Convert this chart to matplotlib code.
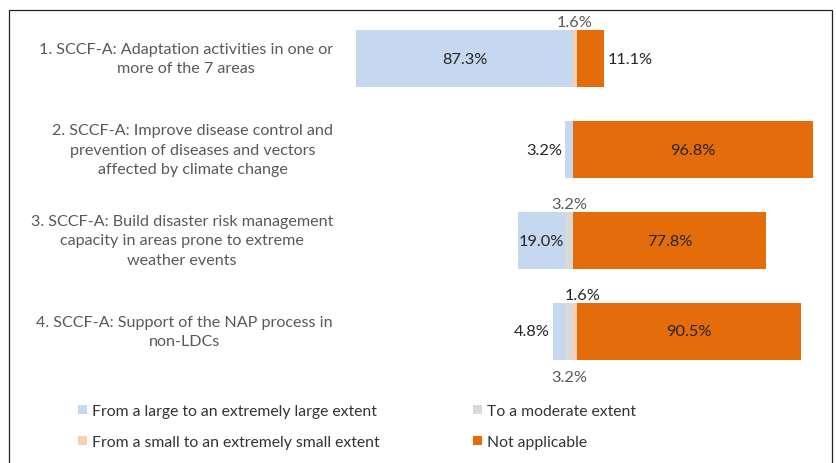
import matplotlib
matplotlib.use("Agg")
import matplotlib.pyplot as plt
import matplotlib.transforms as mtransforms
from matplotlib.patches import Rectangle, Patch

# ---- data ----
categories = [
    "1. SCCF-A: Adaptation activities in one or\nmore of the 7 areas",
    "2. SCCF-A: Improve disease control and\nprevention of diseases and vectors\naffected by climate change",
    "3. SCCF-A: Build disaster risk management\ncapacity in areas prone to extreme\nweather events",
    "4. SCCF-A: Support of the NAP process in\nnon-LDCs",
]
series_names = [
    "From a large to an extremely large extent",
    "To a moderate extent",
    "From a small to an extremely small extent",
    "Not applicable",
]
large = [87.3, 3.2, 19.0, 4.8]
moderate = [0.0, 0.0, 3.2, 3.2]
small = [1.6, 0.0, 0.0, 1.6]
not_applicable = [11.1, 96.8, 77.8, 90.5]

# ---- style ----
colors = ["#C6D8F0", "#D9D9D9", "#F9CFAE", "#E46C0A"]
font = ["Lato", "DejaVu Sans"]
plt.rcParams["font.family"] = font
dark = "#262626"
grey = "#595959"
fs = 11.6
fs_val = 11.8
fs_leg = 11.3

# label placement per bar & series: (where, colour, extra x offset px)
placement = [
    [("in", dark, 0), None, ("above", grey, 0), ("right", dark, 0)],
    [("left", dark, 0), None, None, ("in", dark, 0)],
    [("in", dark, 0), ("above", grey, 0), None, ("in", dark, 0)],
    [("left", dark, 0), ("below", grey, 0), ("above", dark, 8), ("in", dark, 0)],
]

W, H = 836, 464
fig = plt.figure(figsize=(W / 100, H / 100), dpi=100)
ax_l, ax_r, ax_t, ax_b = 340, 830, 14, 378
ax = fig.add_axes([ax_l / W, 1 - ax_b / H, (ax_r - ax_l) / W, (ax_b - ax_t) / H])
center_px, scale = 573, 2.48
ax.set_xlim((ax_l - center_px) / scale, (ax_r - center_px) / scale)
ax.set_ylim(len(categories) - 0.5, -0.5)
ax.axis("off")

series = [large, moderate, small, not_applicable]
ypos = list(range(len(categories)))
bar_h = 0.63
for i in ypos:
    left = -(large[i] + moderate[i])
    for s, vals in enumerate(series):
        v = vals[i]
        if v > 0:
            ax.barh(i, v, left=left, height=bar_h, color=colors[s], edgecolor="none")
            p = placement[i][s]
            if p is not None:
                where, col, dx = p
                txt = f"{v:.1f}%"
                mid = left + v / 2
                if where == "in":
                    ax.annotate(txt, (mid, i), ha="center", va="center", color=col, fontsize=fs_val)
                elif where == "left":
                    ax.annotate(txt, (left, i), xytext=(-2.2, 0), textcoords="offset points",
                                ha="right", va="center", color=col, fontsize=fs_val)
                elif where == "right":
                    ax.annotate(txt, (left + v, i), xytext=(2.2, 0), textcoords="offset points",
                                ha="left", va="center", color=col, fontsize=fs_val)
                elif where == "above":
                    ax.annotate(txt, (mid, i - bar_h / 2), xytext=(dx * 0.72, 5.8),
                                textcoords="offset points", ha="center", va="center",
                                color=col, fontsize=fs_val)
                elif where == "below":
                    ax.annotate(txt, (mid, i + bar_h / 2), xytext=(dx * 0.72, -12.3),
                                textcoords="offset points", ha="center", va="center",
                                color=col, fontsize=fs_val)
        left += v

# category labels
tr = mtransforms.blended_transform_factory(fig.transFigure, ax.transData)
for i, lab in enumerate(categories):
    ax.text(333 / W, i, lab, transform=tr, ha="right", va="center", multialignment="center",
            color=grey, fontsize=fs, linespacing=1.48)

# legend
handles = [Patch(facecolor=c, edgecolor="none") for c in colors]
order = [0, 2, 1, 3]
fig.legend([handles[k] for k in order], [series_names[k] for k in order], ncol=2,
           loc="upper left", bbox_to_anchor=(78 / W, 1 - 405 / H), frameon=False,
           borderpad=0, borderaxespad=0, handlelength=0.55, handleheight=0.55,
           handletextpad=0.35, columnspacing=5.95, labelspacing=1.1,
           fontsize=fs_leg, labelcolor="#333333")

# outer frame
fig.patches.append(Rectangle((9 / W, -0.05), (832 - 9) / W, 1.05 - 11 / H,
                             transform=fig.transFigure, fill=False,
                             edgecolor="#222222", linewidth=0.9))

fig.savefig("out.png", dpi=100)
